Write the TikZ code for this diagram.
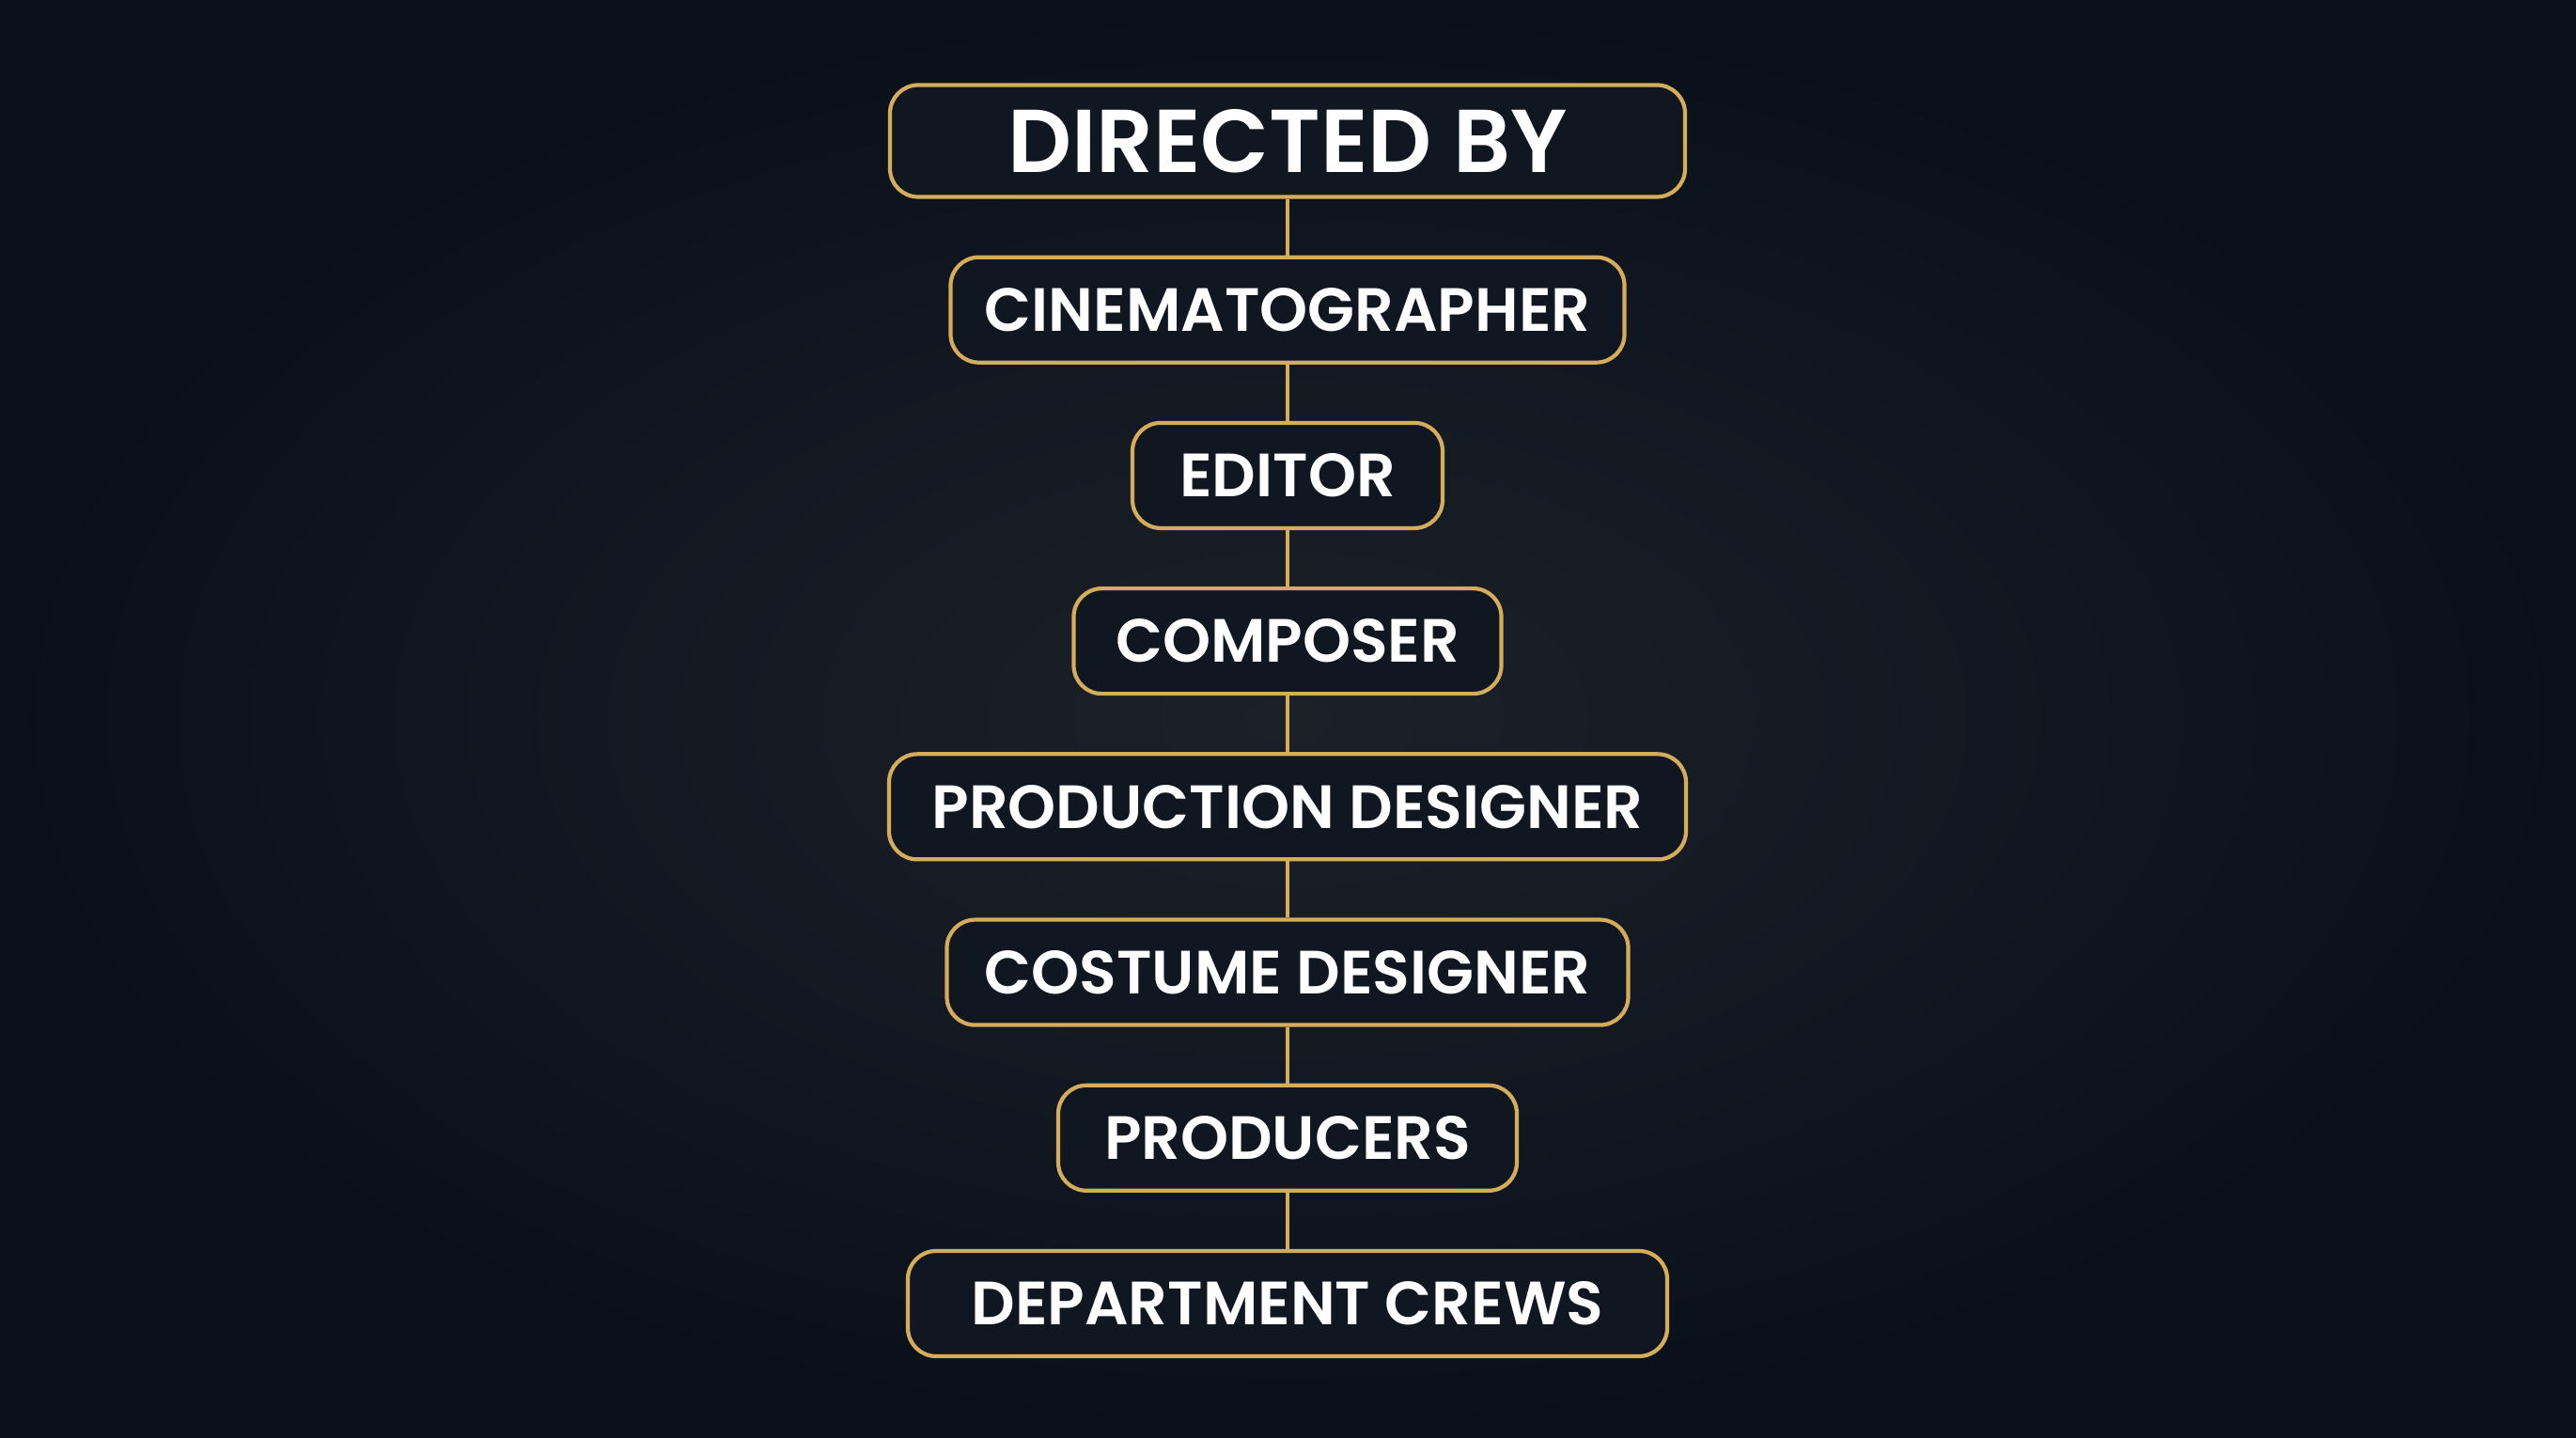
\documentclass[tikz,border=0pt]{standalone}
\usepackage{fontspec}
\setmainfont{Poppins}[BoldFont={Poppins SemiBold}]
\usetikzlibrary{positioning}

\definecolor{fondo}{HTML}{0A101A}
\definecolor{fondocentro}{HTML}{1C2129}
\definecolor{caja}{HTML}{111721}
\definecolor{oro}{HTML}{D4AC5A}

\tikzset{
    puesto/.style={draw=oro, line width=1.2pt, fill=caja, rounded corners=0.3cm,
        minimum height=1.12cm, text=white, font=\fontsize{18.5}{18.5}\selectfont\bfseries},
    enlace/.style={draw=oro, line width=1.2pt}
}

\begin{document}
\begin{tikzpicture}[node distance=0.6cm]
        % Fondo con degradado
        \shade[inner color=fondocentro, outer color=fondo] (0,0) rectangle (27.41,15.30);
        \useasboundingbox (0,0) rectangle (27.41,15.30);

        % Cajas de la cadena
        \node[puesto, minimum width=8.46cm, minimum height=1.19cm,
            font=\fontsize{27}{27}\selectfont\bfseries] (director) at (13.70,13.80) {DIRECTED BY};
        \node[puesto, minimum width=7.17cm] (fotografia) [below=of director] {CINEMATOGRAPHER};
        \node[puesto, minimum width=3.30cm] (editor) [below=of fotografia] {EDITOR};
        \node[puesto, minimum width=4.55cm] (compositor) [below=of editor] {COMPOSER};
        \node[puesto, minimum width=8.48cm] (produccion) [below=of compositor] {PRODUCTION DESIGNER};
        \node[puesto, minimum width=7.25cm] (vestuario) [below=of produccion] {COSTUME DESIGNER};
        \node[puesto, minimum width=4.88cm] (productores) [below=of vestuario] {PRODUCERS};
        \node[puesto, minimum width=8.08cm] (equipos) [below=of productores] {DEPARTMENT CREWS};

        % Lineas entre cajas
        \draw[enlace] (director) -- (fotografia);
        \draw[enlace] (fotografia) -- (editor);
        \draw[enlace] (editor) -- (compositor);
        \draw[enlace] (compositor) -- (produccion);
        \draw[enlace] (produccion) -- (vestuario);
        \draw[enlace] (vestuario) -- (productores);
        \draw[enlace] (productores) -- (equipos);
\end{tikzpicture}
\end{document}
